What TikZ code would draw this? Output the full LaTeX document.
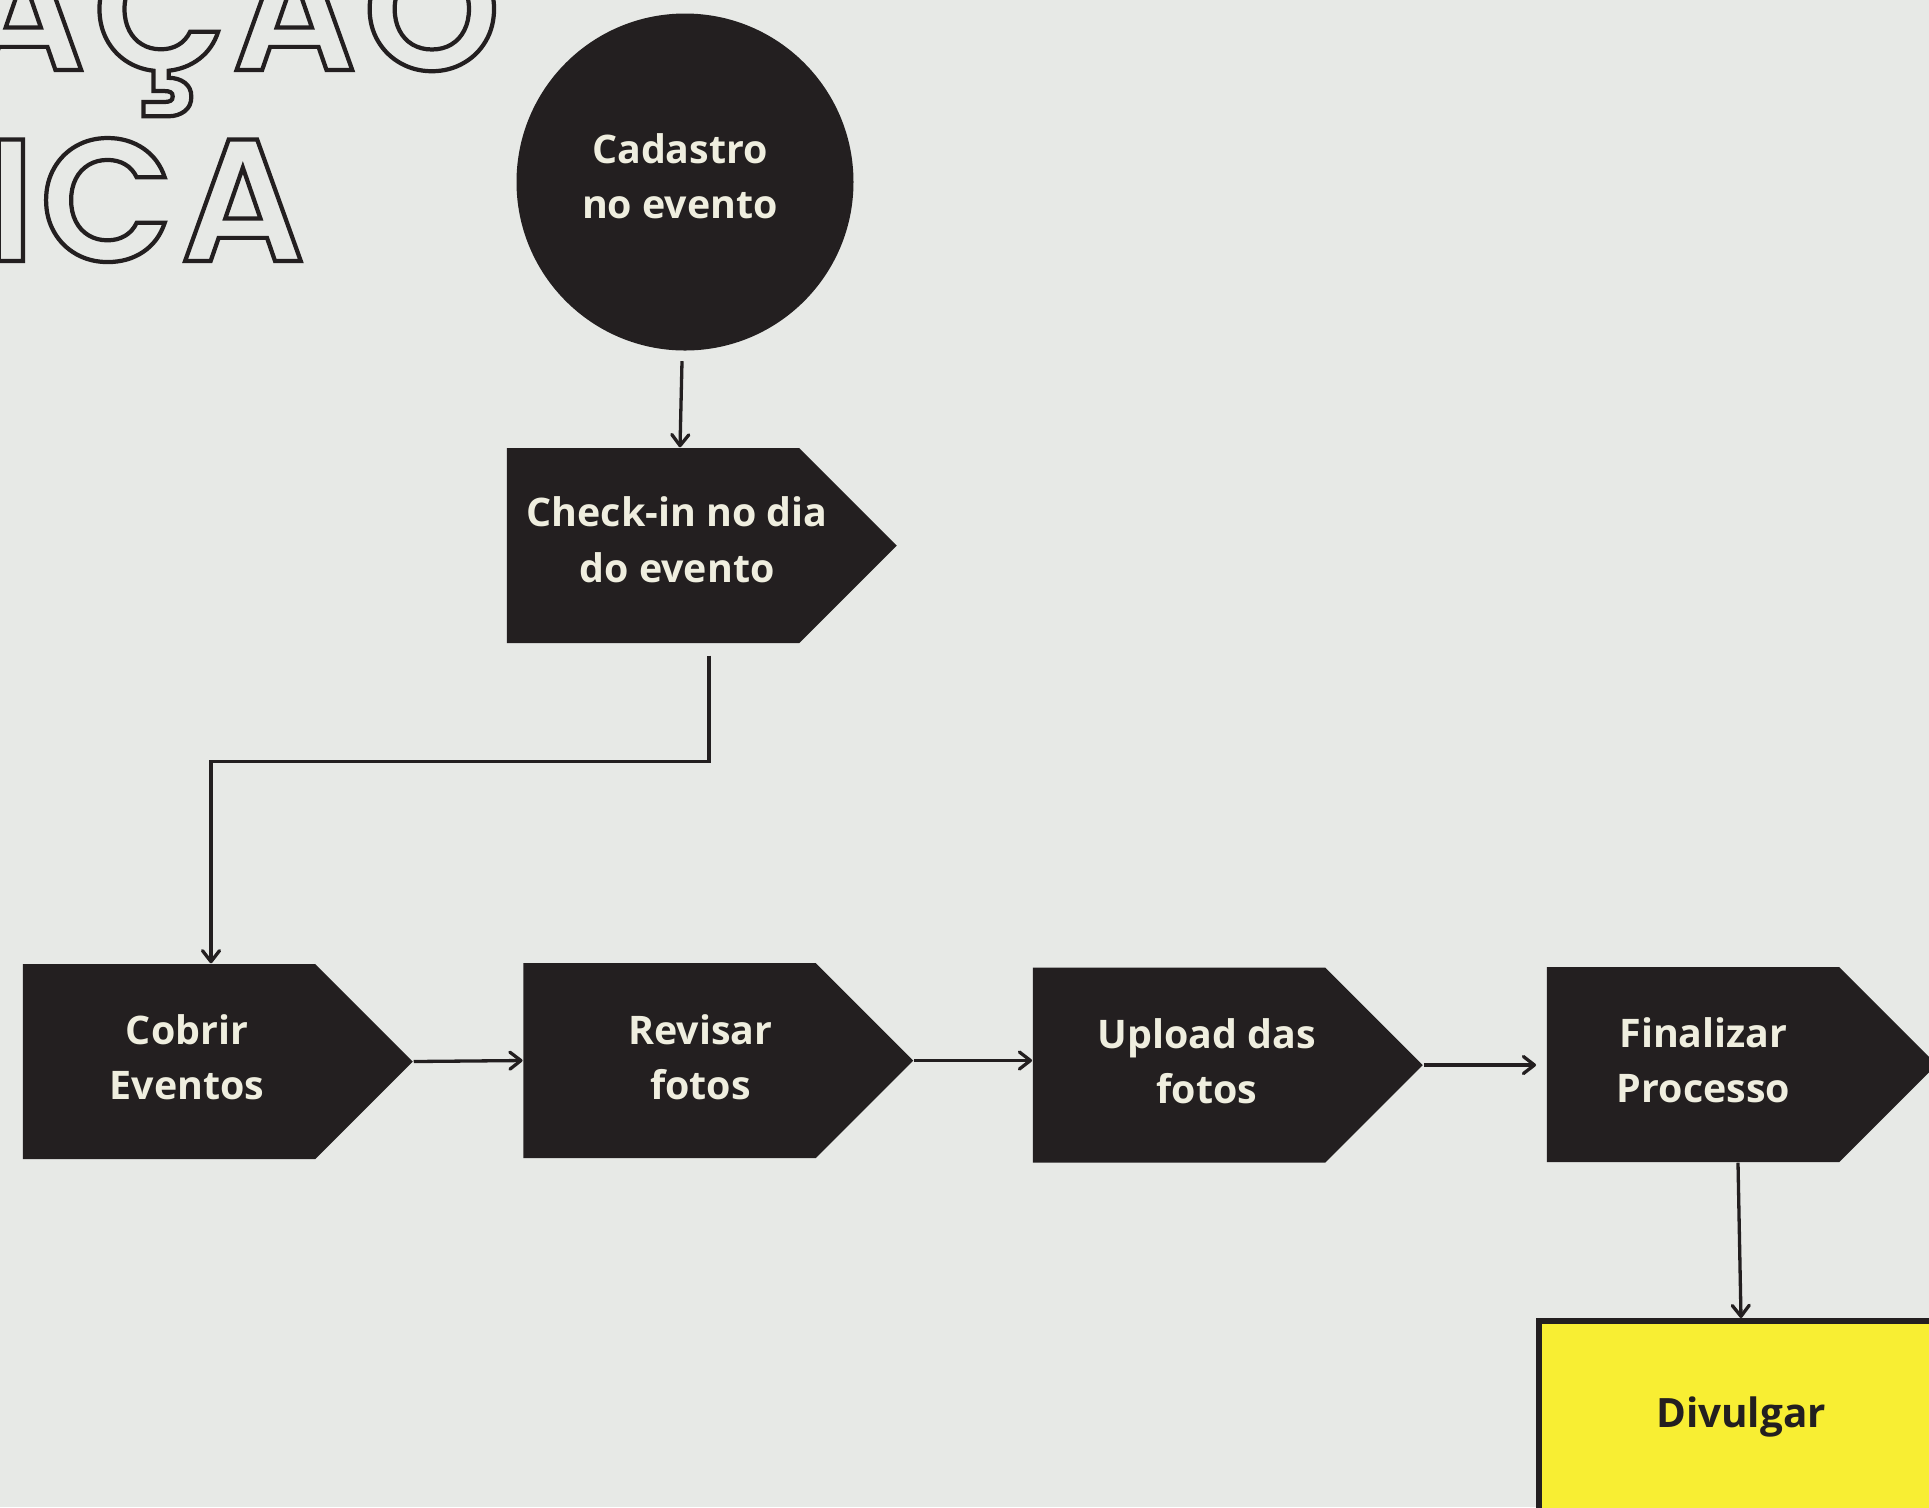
\documentclass[tikz,border=0pt]{standalone}
\usepackage{fontspec}
\setmainfont{Open Sans}
\newfontfamily\titlefont{Poppins}[UprightFont={* SemiBold}]
\newcommand{\outlined}[1]{\special{pdf:literal direct 1 Tr 1.2 w}#1\special{pdf:literal direct 0 Tr}}
\usetikzlibrary{arrows.meta,shapes.symbols}
\definecolor{BackClr}{HTML}{E7E9E6}
\definecolor{BoxClr}{HTML}{231F20}
\definecolor{LabelClr}{HTML}{EFEEDF}
\definecolor{NoteClr}{HTML}{F8EE33}

\begin{document}
\begin{tikzpicture}[x=0.1mm,y=-0.1mm,
  stepbox/.style={signal,signal to=east,signal from=nowhere,signal pointer angle=90,
    fill=BoxClr,minimum width=39mm,minimum height=19.5mm,inner sep=0pt},
  steplabel/.style={text=LabelClr,font=\bfseries\fontsize{11.2}{15.8}\selectfont,align=center},
  titletext/.style={anchor=base east,inner sep=0pt,text=BoxClr,
    font=\titlefont\fontsize{49.5}{60}\selectfont},
  conn/.style={draw=BoxClr,line width=0.33mm,-{Straight Barb[length=1.1mm,width=1.7mm,round]}}]
\useasboundingbox (0,0) rectangle (1929,1507);
\fill[BackClr] (0,0) rectangle (1929,1507);
\clip (0,0) rectangle (1929,1507);

% title, cut by the page edge (outline letters)
\node[titletext] (title-top) at (501,70) {\outlined{A\kern0.8mm Ç\kern0.5mm Ã\kern0.7mm O}};
\node[titletext] (title-bottom) at (306,261) {\outlined{I\kern0.5mm C\kern0.7mm A}};

\node[circle,fill=BoxClr,minimum size=33.7mm,inner sep=0pt,
  label={[steplabel,xshift=-0.5mm,yshift=0.6mm]center:{Cadastro\\no evento}}] (cadastro) at (685,182) {};
\node[stepbox,label={[steplabel,xshift=2.4mm,yshift=0.6mm]center:{Check-in no dia\\do evento}}]
  (checkin) at (653,545.5) {};

\node[stepbox,label={[steplabel,xshift=1.8mm,yshift=0.45mm]center:{Cobrir\\Eventos}}]
  (cobrir) at (169,1061.5) {};
\node[stepbox,label={[steplabel,xshift=3.1mm,yshift=0.35mm]center:{Revisar\\fotos}}]
  (revisar) at (669.5,1060.5) {};
\node[stepbox,label={[steplabel,xshift=2.8mm,yshift=0.4mm]center:{Upload das\\fotos}}]
  (upload) at (1179,1065) {};
\node[stepbox,label={[steplabel,xshift=1.05mm,yshift=0.45mm]center:{Finalizar\\Processo}}]
  (finalizar) at (1693,1064.5) {};

\node[draw=BoxClr,fill=NoteClr,line width=0.6mm,minimum width=40.4mm,minimum height=19.2mm,
  text=BoxClr,font=\bfseries\fontsize{11.5}{15}\selectfont] (divulgar) at (1741,1417) {Divulgar};

\draw[conn] ([xshift=-0.3mm,yshift=-1mm]cadastro.south) -- ([xshift=2.7mm]checkin.north);
\draw[conn] ([xshift=5.6mm,yshift=-1.2mm]checkin.south) |- ([xshift=4.2mm,yshift=20.2mm]cobrir.north)
  -- ([xshift=4.2mm]cobrir.north);
\draw[conn] (cobrir.east) -- (revisar.west);
\draw[conn] (revisar.east) -- (revisar.east -| upload.west);
\draw[conn] (upload.east) -- ([xshift=-1mm]upload.east -| finalizar.west);
\draw[conn] ([xshift=4.5mm]finalizar.south) -- (divulgar.north);

\end{tikzpicture}
\end{document}
